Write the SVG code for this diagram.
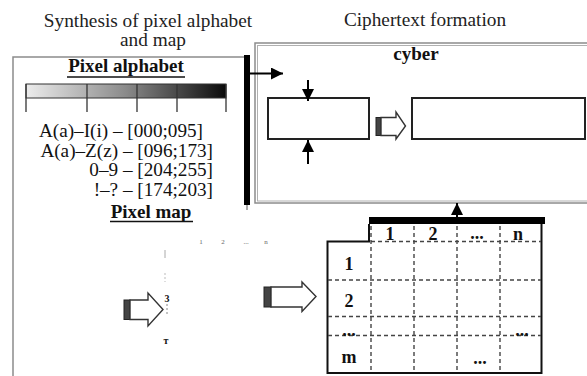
<svg xmlns="http://www.w3.org/2000/svg" width="587" height="376" viewBox="0 0 587 376" font-family="'Liberation Serif','Times New Roman',serif">
<defs>
<linearGradient id="grad" x1="0" y1="0" x2="1" y2="0">
<stop offset="0" stop-color="#ececec"/>
<stop offset="0.5" stop-color="#8a8a8a"/>
<stop offset="1" stop-color="#0a0a0a"/>
</linearGradient>
<marker id="ah" viewBox="0 0 10 10" refX="10" refY="5" markerWidth="12" markerHeight="12" markerUnits="userSpaceOnUse" orient="auto">
<path d="M0,0 L10,5 L0,10 Z" fill="#000"/>
</marker>
</defs>
<style>
text{font-family:"Liberation Serif","Times New Roman",serif;fill:#111}
.title{font-size:19.3px;fill:#222}
.b{font-weight:bold}
.frame{fill:none;stroke:#8c8c8c;stroke-width:1.5}
.frame2{fill:none;stroke:#b0b0b0;stroke-width:1}
.box{fill:#fff;stroke:#222;stroke-width:2}
.conn{stroke:#000;stroke-width:2;fill:none}
.dash{stroke:#444;stroke-width:1.4;stroke-dasharray:4 3;fill:none}
.harrow{fill:#fff;stroke:#333;stroke-width:1.4}
.hbar{fill:#444;stroke:#222;stroke-width:1}
.tiny{font-size:7px;fill:#666}
.alpha{font-size:19.2px;text-anchor:end}
.cell{font-size:18px;font-weight:bold;text-anchor:middle}
</style>

<g id="synthesis">
<text class="title" x="148" y="27" text-anchor="middle">Synthesis of pixel alphabet</text>
<text class="title" x="153" y="46" text-anchor="middle">and map</text>
<path class="frame" d="M13,380 V57 H246"/>
<rect x="244" y="55" width="6" height="150" fill="#000"/>
<line x1="247" y1="205" x2="247" y2="210" stroke="#555" stroke-width="1"/>
</g>

<g id="pixel-alphabet">
<text class="b" x="126" y="72" font-size="19" text-anchor="middle">Pixel alphabet</text>
<line x1="67" y1="77" x2="185" y2="77" stroke="#111" stroke-width="1.3"/>
<rect x="26" y="84" width="200" height="14" fill="url(#grad)" stroke="#333" stroke-width="1"/>
<g stroke="#333" stroke-width="1.3">
<line x1="26" y1="84" x2="26" y2="112"/>
<line x1="87" y1="84" x2="87" y2="112"/>
<line x1="137" y1="84" x2="137" y2="112"/>
<line x1="177" y1="84" x2="177" y2="112"/>
<line x1="226" y1="84" x2="226" y2="112"/>
</g>
<text class="alpha" x="203" y="137">A(a)–I(i) – [000;095]</text>
<text class="alpha" x="213" y="157">A(a)–Z(z) – [096;173]</text>
<text class="alpha" x="213" y="176">0–9 – [204;255]</text>
<text class="alpha" x="213" y="196">!–? – [174;203]</text>
</g>

<g id="pixel-map">
<text class="b" x="151" y="218" font-size="19" text-anchor="middle">Pixel map</text>
<line x1="110" y1="221.5" x2="193" y2="221.5" stroke="#111" stroke-width="1.3"/>
<text class="tiny" x="201" y="244" text-anchor="middle">1</text>
<text class="tiny" x="223" y="244" text-anchor="middle">2</text>
<text class="tiny" x="246" y="244" text-anchor="middle">...</text>
<text class="tiny" x="266" y="244" text-anchor="middle">n</text>
<line x1="165" y1="250" x2="165" y2="258" stroke="#aaa" stroke-width="1"/>
<line x1="165" y1="273" x2="165" y2="282" stroke="#bbb" stroke-width="1" stroke-dasharray="2 2"/>
<text x="167" y="302" font-size="10" font-weight="bold" text-anchor="middle" fill="#444">3</text>
<line x1="167" y1="304" x2="167" y2="315" stroke="#888" stroke-width="1" stroke-dasharray="2 2"/>
<text x="166" y="344" font-size="10" font-weight="bold" text-anchor="middle" fill="#333">т</text>
<rect class="hbar" x="124" y="300" width="6" height="19.5"/>
<path class="harrow" d="M130,300 H148 V293 L163,309.5 L148,326 V319.5 H130 Z"/>
</g>

<g id="ciphertext-formation">
<text class="title" x="425" y="26" text-anchor="middle">Ciphertext formation</text>
<rect class="frame" x="255" y="43" width="345" height="160"/>
<rect class="frame2" x="257.5" y="45.5" width="340" height="155.5"/>
<text class="b" x="416" y="60" font-size="19" text-anchor="middle">cyber</text>
</g>

<g id="input-box">
<rect class="box" x="268" y="98" width="101" height="41"/>
</g>

<g id="output-box">
<rect class="box" x="412" y="98" width="173" height="41"/>
</g>

<g id="table">
<rect x="369" y="217" width="176" height="7" fill="#000"/>
<path d="M369,224 V241.5 H327.5 V373 H541.5 V224" fill="none" stroke="#111" stroke-width="2"/>
<line class="dash" x1="371" y1="241.5" x2="541" y2="241.5"/>
<line class="dash" x1="328" y1="280" x2="541" y2="280"/>
<line class="dash" x1="328" y1="316.5" x2="541" y2="316.5"/>
<line class="dash" x1="328" y1="335.5" x2="541" y2="335.5"/>
<line class="dash" x1="371" y1="226" x2="371" y2="372"/>
<line class="dash" x1="414" y1="226" x2="414" y2="372"/>
<line class="dash" x1="457" y1="226" x2="457" y2="372"/>
<line class="dash" x1="500" y1="226" x2="500" y2="372"/>
<text class="cell" x="390" y="240">1</text>
<text class="cell" x="433" y="240">2</text>
<text class="cell" x="477" y="239" font-size="13">...</text>
<text class="cell" x="518" y="240">n</text>
<text class="cell" x="349" y="270">1</text>
<text class="cell" x="349" y="307">2</text>
<text class="cell" x="349" y="336" font-size="13">...</text>
<text class="cell" x="522" y="336" font-size="13">...</text>
<text class="cell" x="349" y="363">m</text>
<text class="cell" x="480" y="364" font-size="13">...</text>
</g>

<g id="connectors">
<line class="conn" x1="250" y1="73.5" x2="283" y2="73.5" marker-end="url(#ah)"/>
<line class="conn" x1="308" y1="80" x2="308" y2="101" marker-end="url(#ah)"/>
<line class="conn" x1="308" y1="164" x2="308" y2="140" marker-end="url(#ah)"/>
<line class="conn" x1="457" y1="217" x2="457" y2="203" marker-end="url(#ah)"/>
<rect class="hbar" x="376" y="117.5" width="5" height="18"/>
<path class="harrow" d="M381,117.5 H396 V112 L405.5,126 L396,139 V135.5 H381 Z"/>
<rect class="hbar" x="264" y="287" width="7" height="20"/>
<path class="harrow" d="M271,287 H302 V282 L316,296.5 L302,311.5 V307 H271 Z"/>
</g>
</svg>
